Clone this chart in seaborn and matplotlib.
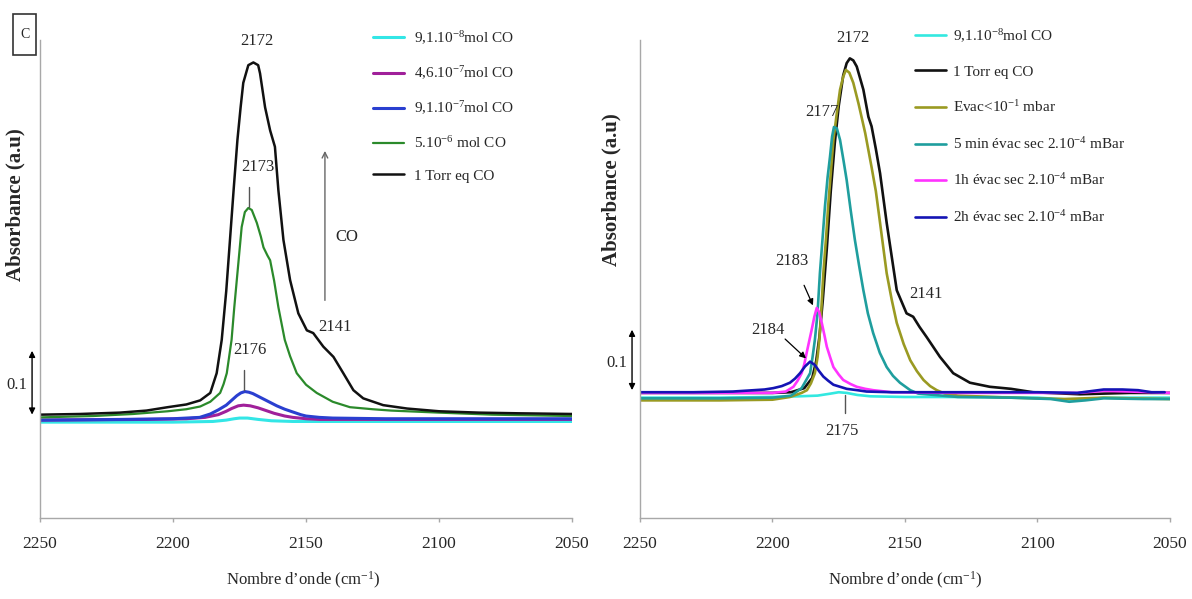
# IR spectra of CO adsorption (two panels), rebuilt with seaborn

import matplotlib
matplotlib.use("Agg")
import matplotlib.pyplot as plt
from matplotlib.patches import Rectangle
import seaborn as sns

# ---- left panel data (wavenumber cm-1, absorbance a.u.) ----
left_cyan_wn = [2250, 2200, 2185, 2180, 2177, 2175, 2172, 2168, 2163, 2155, 2140, 2100, 2050]
left_cyan_a = [-0.003, -0.003, -0.002, 0.000, 0.002, 0.003, 0.003, 0.001, -0.001, -0.002, -0.002, -0.002, -0.002]

left_mag_wn = [2250, 2210, 2195, 2188, 2183, 2180, 2178, 2175.5, 2173.5, 2171, 2168, 2165, 2162, 2158, 2155, 2150, 2145, 2120, 2050]
left_mag_a = [0.000, 0.001, 0.002, 0.004, 0.008, 0.013, 0.017, 0.021, 0.022, 0.021, 0.018, 0.014, 0.010, 0.006, 0.004, 0.002, 0.001, 0.001, 0.001]

left_blue_wn = [2250, 2220, 2200, 2190, 2186, 2183, 2180, 2178, 2176, 2174.5, 2173, 2171.5, 2170, 2167.5, 2165, 2163, 2161, 2158, 2155, 2152, 2150, 2145, 2140, 2120, 2100, 2050]
left_blue_a = [0.000, 0.001, 0.002, 0.004, 0.009, 0.015, 0.022, 0.029, 0.036, 0.040, 0.042, 0.041, 0.039, 0.034, 0.029, 0.025, 0.021, 0.016, 0.012, 0.008, 0.006, 0.004, 0.003, 0.002, 0.002, 0.002]

left_green_wn = [2250, 2230, 2215, 2202, 2195, 2189.8, 2186, 2182.3, 2181, 2179.8, 2178, 2177, 2175.8, 2174.2, 2173, 2171.7, 2170.4, 2168.5, 2167, 2166, 2164.5, 2163.5, 2162, 2160.4, 2158, 2156, 2153.5, 2150, 2146, 2140, 2133.5, 2125, 2118, 2100, 2080, 2050]
left_green_a = [0.004, 0.006, 0.009, 0.013, 0.016, 0.020, 0.027, 0.040, 0.053, 0.069, 0.118, 0.165, 0.216, 0.284, 0.306, 0.312, 0.309, 0.290, 0.270, 0.254, 0.242, 0.235, 0.205, 0.166, 0.118, 0.094, 0.069, 0.052, 0.040, 0.027, 0.019, 0.016, 0.014, 0.011, 0.008, 0.006]

left_black_wn = [2250, 2235, 2220, 2210, 2202, 2195, 2189.8, 2186, 2183.6, 2181.7, 2180, 2178.6, 2177.2, 2175.8, 2174.6, 2173.6, 2171.7, 2169.8, 2168, 2167.3, 2165.4, 2163.5, 2161.7, 2160.4, 2158.5, 2156, 2152.9, 2149.7, 2147.3, 2143.5, 2139.7, 2136, 2132.2, 2128.5, 2121, 2112, 2100, 2085, 2070, 2050]
left_black_a = [0.008, 0.009, 0.011, 0.014, 0.019, 0.023, 0.029, 0.040, 0.069, 0.118, 0.190, 0.265, 0.340, 0.412, 0.460, 0.496, 0.522, 0.526, 0.522, 0.510, 0.460, 0.426, 0.402, 0.338, 0.265, 0.206, 0.157, 0.132, 0.128, 0.108, 0.093, 0.069, 0.044, 0.032, 0.022, 0.017, 0.013, 0.011, 0.010, 0.009]

left_labels = ["9,1.10$\\mathregular{^{-8}}$mol CO", "4,6.10$\\mathregular{^{-7}}$mol CO",
               "9,1.10$\\mathregular{^{-7}}$mol CO", "5.10$\\mathregular{^{-6}}$ mol CO", "1 Torr eq CO"]
left_colors = ["#33e6e6", "#a0209a", "#2a3fd0", "#2b8a2b", "#111111"]

# ---- right panel data ----
right_cyan_wn = [2250, 2220, 2200, 2190, 2183, 2178, 2175, 2172, 2168, 2163, 2150, 2120, 2100, 2092, 2086, 2080, 2075, 2060, 2050]
right_cyan_a = [-0.004, -0.004, -0.003, -0.002, -0.001, 0.002, 0.004, 0.003, 0.000, -0.002, -0.003, -0.003, -0.004, -0.006, -0.007, -0.006, -0.004, -0.004, -0.004]

right_black_wn = [2250, 2220, 2200, 2193, 2188, 2185, 2183.5, 2182.3, 2181, 2179.5, 2178, 2176.5, 2175, 2173.3, 2172, 2170.8, 2169.5, 2168.2, 2165.7, 2163.8, 2162.6, 2161, 2159.4, 2156.9, 2153.1, 2149.4, 2146.9, 2144.5, 2141.8, 2136.8, 2131.8, 2125.5, 2118, 2110, 2101.7, 2090, 2084, 2075, 2065, 2050]
right_black_a = [0.003, 0.003, 0.003, 0.004, 0.010, 0.025, 0.050, 0.085, 0.140, 0.215, 0.300, 0.370, 0.425, 0.470, 0.488, 0.495, 0.492, 0.483, 0.449, 0.409, 0.395, 0.362, 0.326, 0.253, 0.154, 0.120, 0.115, 0.100, 0.085, 0.056, 0.032, 0.018, 0.012, 0.009, 0.004, 0.002, 0.001, 0.002, 0.003, 0.003]

right_olive_wn = [2250, 2220, 2200, 2193.4, 2189, 2187, 2185.5, 2184, 2183, 2182.3, 2181.5, 2180.8, 2179.8, 2179, 2178, 2177, 2175.8, 2174.5, 2173.3, 2172.3, 2171, 2169.5, 2167.5, 2165, 2162.6, 2161, 2159.4, 2156.9, 2155, 2153.1, 2150.5, 2148, 2145.5, 2143, 2140.5, 2138, 2135, 2130, 2110, 2090, 2075, 2065, 2050]
right_olive_a = [-0.008, -0.008, -0.007, -0.003, 0.003, 0.007, 0.017, 0.032, 0.055, 0.081, 0.130, 0.179, 0.230, 0.277, 0.326, 0.375, 0.412, 0.449, 0.468, 0.478, 0.474, 0.459, 0.428, 0.385, 0.335, 0.300, 0.253, 0.179, 0.140, 0.106, 0.075, 0.051, 0.035, 0.022, 0.013, 0.007, 0.002, -0.001, -0.004, -0.006, -0.004, -0.005, -0.006]

right_teal_wn = [2250, 2220, 2200, 2193, 2189, 2185.8, 2184.9, 2184, 2183, 2182.1, 2181.2, 2180.2, 2179.2, 2178.3, 2177.5, 2176.8, 2175.7, 2174.5, 2173.2, 2172, 2170.5, 2168.9, 2167.3, 2165.7, 2164, 2162, 2159.5, 2156.9, 2154.5, 2151.9, 2148, 2145, 2130, 2110, 2095, 2088, 2082, 2075, 2060, 2050]
right_teal_a = [-0.005, -0.005, -0.004, -0.001, 0.010, 0.032, 0.055, 0.081, 0.120, 0.179, 0.225, 0.277, 0.320, 0.350, 0.380, 0.394, 0.392, 0.375, 0.345, 0.316, 0.272, 0.228, 0.190, 0.154, 0.120, 0.091, 0.062, 0.041, 0.028, 0.018, 0.007, 0.002, -0.003, -0.004, -0.006, -0.010, -0.008, -0.005, -0.006, -0.006]

right_mag_wn = [2250, 2220, 2200, 2195, 2192.1, 2190.5, 2189, 2188, 2187.1, 2186.1, 2185.2, 2184.2, 2183.3, 2182.4, 2181.4, 2180.4, 2179.5, 2178.2, 2177, 2175, 2173.3, 2170.5, 2168.2, 2165, 2162, 2155, 2130, 2100, 2085, 2075, 2065, 2050]
right_mag_a = [0.003, 0.003, 0.003, 0.005, 0.012, 0.021, 0.032, 0.045, 0.062, 0.080, 0.096, 0.115, 0.128, 0.122, 0.106, 0.088, 0.071, 0.055, 0.041, 0.030, 0.022, 0.016, 0.012, 0.009, 0.007, 0.004, 0.003, 0.003, 0.003, 0.006, 0.005, 0.003]

right_navy_wn = [2250, 2230, 2215, 2207, 2203, 2199.7, 2196.5, 2193.4, 2191.5, 2189.6, 2187.7, 2185.8, 2184, 2182.4, 2180.8, 2179, 2177, 2174.5, 2172, 2168, 2164.5, 2155, 2140, 2120, 2100, 2085, 2079, 2075, 2068, 2062, 2057, 2052]
right_navy_a = [0.004, 0.004, 0.005, 0.007, 0.008, 0.010, 0.013, 0.018, 0.024, 0.032, 0.042, 0.049, 0.044, 0.035, 0.027, 0.021, 0.015, 0.012, 0.009, 0.007, 0.005, 0.004, 0.004, 0.004, 0.004, 0.003, 0.006, 0.008, 0.008, 0.007, 0.004, 0.004]

right_labels = ["9,1.10$\\mathregular{^{-8}}$mol CO", "1 Torr eq CO", "Evac<10$\\mathregular{^{-1}}$ mbar",
                "5 min évac sec 2.10$\\mathregular{^{-4}}$ mBar", "1h évac sec 2.10$\\mathregular{^{-4}}$ mBar",
                "2h évac sec 2.10$\\mathregular{^{-4}}$ mBar"]
right_colors = ["#33e8e0", "#111111", "#9a9a22", "#1f9e9e", "#ff33ff", "#1414b4"]

sns.set_style("white")
plt.rcParams["font.family"] = ["Liberation Serif", "DejaVu Serif"]
plt.rcParams["mathtext.fontset"] = "custom"
plt.rcParams["mathtext.rm"] = "Liberation Serif"

fig = plt.figure(figsize=(11.92, 5.99), dpi=100)
ax1 = fig.add_axes([0.0336, 0.1352, 0.4463, 0.798])
ax2 = fig.add_axes([0.5369, 0.1352, 0.4446, 0.798])

left_series = [(left_cyan_wn, left_cyan_a), (left_mag_wn, left_mag_a), (left_blue_wn, left_blue_a),
               (left_green_wn, left_green_a), (left_black_wn, left_black_a)]
left_lw = [2.2, 2.2, 2.2, 1.6, 1.8]
for (wn, a), lab, col, lw in zip(left_series, left_labels, left_colors, left_lw):
    sns.lineplot(x=wn, y=a, ax=ax1, color=col, lw=lw, label=lab, sort=False, estimator=None)

right_series = [(right_cyan_wn, right_cyan_a), (right_black_wn, right_black_a), (right_olive_wn, right_olive_a),
                (right_teal_wn, right_teal_a), (right_mag_wn, right_mag_a), (right_navy_wn, right_navy_a)]
for (wn, a), lab, col in zip(right_series, right_labels, right_colors):
    sns.lineplot(x=wn, y=a, ax=ax2, color=col, lw=1.9, label=lab, sort=False, estimator=None)

ax1.set_ylim(-0.144, 0.559)
ax2.set_ylim(-0.181, 0.522)

for ax in (ax1, ax2):
    ax.set_xlim(2250, 2050)
    ax.set_xticks([2250, 2200, 2150, 2100, 2050])
    ax.set_yticks([])
    for s in ("top", "right"):
        ax.spines[s].set_visible(False)
    for s in ("left", "bottom"):
        ax.spines[s].set_color("#a8a8a8")
        ax.spines[s].set_linewidth(1.0)
    ax.tick_params(axis="x", direction="out", length=3, width=1, color="#a8a8a8",
                   labelsize=12.5, pad=10, bottom=True)
    ax.set_xlabel("Nombre d’onde (cm$\\mathregular{^{-1}}$)", fontsize=12)
    ax.set_ylabel("Absorbance (a.u)", fontsize=15, fontweight="bold")

ax1.xaxis.set_label_coords(0.494, -0.108)
ax2.xaxis.set_label_coords(0.5, -0.108)
ax1.yaxis.set_label_coords(-0.028, 0.655)
ax2.yaxis.set_label_coords(-0.034, 0.686)

ax1.legend(loc="upper left", bbox_to_anchor=(373 / 1192, 1 - 29 / 599), bbox_transform=fig.transFigure,
           frameon=False, fontsize=11, handlelength=2.0, handletextpad=0.7, labelspacing=1.17,
           borderpad=0, borderaxespad=0)
ax2.legend(loc="upper left", bbox_to_anchor=(915 / 1192, 1 - 27 / 599), bbox_transform=fig.transFigure,
           frameon=False, fontsize=11, handlelength=2.0, handletextpad=0.5, labelspacing=1.35,
           borderpad=0, borderaxespad=0)

txt = dict(fontsize=12, ha="center", va="center", annotation_clip=False)
pointer = dict(arrowstyle="-|>", color="black", lw=0.9, mutation_scale=9)

# left panel annotations
ax1.annotate("2172", xy=(2168.4, 0.557), **txt)
ax1.annotate("2173", xy=(2168.0, 0.372), **txt)
ax1.plot([2171.4, 2171.4], [0.343, 0.314], color="#555555", lw=1)
ax1.annotate("2176", xy=(2171.0, 0.103), **txt)
ax1.plot([2173.3, 2173.3], [0.074, 0.044], color="#555555", lw=1)
ax1.annotate("2141", xy=(2139.0, 0.137), **txt)
ax1.annotate("", xy=(2142.9, 0.40), xytext=(2142.9, 0.172),
             arrowprops=dict(arrowstyle="->", color="#666666", lw=1))
ax1.annotate("CO", xy=(2139.0, 0.269), fontsize=12, ha="left", va="center")
ax1.annotate("", xy=(2253.0, 0.004), xytext=(2253.0, 0.106), annotation_clip=False,
             arrowprops=dict(arrowstyle="<|-|>", color="black", lw=1, mutation_scale=9))
ax1.annotate("0.1", xy=(2258.6, 0.052), **txt)

# right panel annotations
ax2.annotate("2172", xy=(2169.6, 0.525), **txt)
ax2.annotate("2177", xy=(2181.3, 0.416), **txt)
ax2.annotate("2183", xy=(2192.6, 0.197), **txt)
ax2.annotate("", xy=(2184.3, 0.128), xytext=(2188.5, 0.165), arrowprops=pointer)
ax2.annotate("2184", xy=(2201.7, 0.096), **txt)
ax2.annotate("", xy=(2186.6, 0.051), xytext=(2196.0, 0.085), arrowprops=pointer)
ax2.annotate("2175", xy=(2173.8, -0.053), **txt)
ax2.plot([2172.8, 2172.8], [0.0, -0.027], color="#555555", lw=1)
ax2.annotate("2141", xy=(2142.0, 0.149), **txt)
ax2.annotate("", xy=(2253.0, 0.003), xytext=(2253.0, 0.100), annotation_clip=False,
             arrowprops=dict(arrowstyle="<|-|>", color="black", lw=1, mutation_scale=9))
ax2.annotate("0.1", xy=(2258.7, 0.047), **txt)

# panel letter in a tall box
fig.patches.append(Rectangle((13 / 1192, 1 - 55 / 599), 23 / 1192, 41 / 599, transform=fig.transFigure,
                             fill=False, ec="#333333", lw=1.2))
fig.text(24.5 / 1192, 1 - 35 / 599, "C", fontsize=10, ha="center", va="center")

fig.savefig("out.png", dpi=100)
plt.close(fig)
